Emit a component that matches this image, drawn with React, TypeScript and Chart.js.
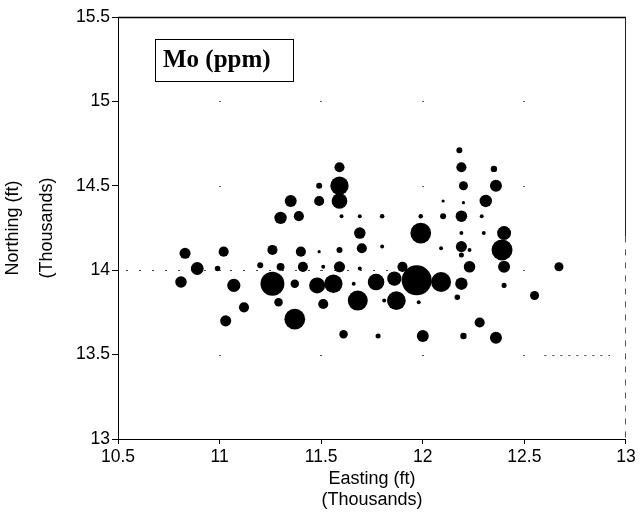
import React, { useEffect, useRef } from "react";
import { Chart, registerables } from "chart.js";

Chart.register(...registerables);

// Sample locations (thousands of ft) and molybdenum concentration at each
const eastings = [
  12.18, 11.59, 12.19, 12.35, 11.49, 11.59, 12.2, 12.36, 11.35, 11.49,
  11.59, 12.1, 12.2, 12.31, 11.3, 11.39, 11.6, 11.69, 11.8, 11.99,
  12.1, 12.19, 12.29, 11.69, 11.99, 12.19, 12.3, 12.4, 10.83, 11.02,
  11.26, 11.4, 11.49, 11.59, 11.7, 11.8, 12.09, 12.19, 12.23, 12.39,
  12.19, 10.89, 10.99, 11.2, 11.3, 11.41, 11.51, 11.59, 11.69, 11.9,
  12.23, 12.4, 12.67, 10.81, 11.07, 11.26, 11.37, 11.48, 11.56, 11.66,
  11.77, 11.86, 11.97, 12.09, 12.19, 12.4, 11.12, 11.29, 11.51, 11.68,
  11.81, 11.87, 11.98, 12.17, 12.55, 11.03, 11.37, 12.28, 11.61, 11.78,
  12.0, 12.2, 12.36,
];
const northings = [
  14.71, 14.61, 14.61, 14.6, 14.5, 14.5, 14.5, 14.5, 14.41, 14.41,
  14.41, 14.41, 14.4, 14.41, 14.31, 14.32, 14.32, 14.32, 14.32, 14.32,
  14.32, 14.32, 14.32, 14.22, 14.22, 14.22, 14.22, 14.22, 14.1, 14.11,
  14.12, 14.11, 14.11, 14.12, 14.13, 14.14, 14.13, 14.14, 14.12, 14.12,
  14.09, 14.01, 14.01, 14.03, 14.02, 14.02, 14.02, 14.02, 14.01, 14.02,
  14.02, 14.02, 14.02, 13.93, 13.91, 13.92, 13.92, 13.91, 13.92, 13.92,
  13.93, 13.95, 13.94, 13.93, 13.92, 13.91, 13.78, 13.81, 13.8, 13.82,
  13.82, 13.82, 13.81, 13.84, 13.85, 13.7, 13.71, 13.69, 13.62, 13.61,
  13.61, 13.61, 13.6,
];
const moPpm = [
  3.5, 10, 10, 4, 3.5, 33, 8, 14, 14, 10,
  24, 1, 1, 15, 15, 10, 1.5, 1.5, 2, 2,
  3.5, 13, 1.5, 13, 42, 1.5, 1.5, 19, 12, 10,
  10, 10, 1, 3.5, 10, 1.5, 1.5, 12, 1.5, 43,
  2.5, 16, 3, 3.5, 6, 10, 1.5, 12, 1.5, 10,
  13, 14, 8, 13, 17, 56, 7, 25, 33, 1.5,
  27, 20, 88, 39, 15, 2.5, 10, 7, 10, 39,
  1.5, 34, 1.5, 3, 8, 12, 42, 10, 7, 2.5,
  14, 4, 14,
];

const xTicks = [10.5, 11, 11.5, 12, 12.5, 13];
const yTicks = [13, 13.5, 14, 14.5, 15, 15.5];
const xTitle = ["Easting (ft)", "(Thousands)"];
const yTitle = ["Northing (ft)", "(Thousands)"];
const variableLabel = "Mo (ppm)";

// bubble area grows with concentration
const bubbleRadius = (ppm: number) => 1.6 * Math.sqrt(ppm);

const SANS = "'Liberation Sans', Arial, Helvetica, sans-serif";
const SERIF = "'Liberation Serif', 'Times New Roman', serif";

const decorPlugin = {
  id: "decor",
  beforeDatasetsDraw(chart: any) {
    const { ctx, scales } = chart;
    const xs = scales.x;
    const ys = scales.y;
    ctx.save();
    // faint dotted grid remnants
    ctx.fillStyle = "#555";
    for (const gx of xTicks.slice(1, -1)) {
      for (const gy of yTicks.slice(1, -1)) {
        ctx.fillRect(Math.round(xs.getPixelForValue(gx)) - 1, Math.round(ys.getPixelForValue(gy)), 2, 1);
      }
    }
    ctx.strokeStyle = "#444";
    ctx.lineWidth = 1;
    ctx.setLineDash([2, 11]);
    ctx.beginPath();
    const y14 = Math.round(ys.getPixelForValue(14)) + 0.5;
    ctx.moveTo(xs.getPixelForValue(10.5) + 8, y14);
    ctx.lineTo(xs.getPixelForValue(11.9), y14);
    ctx.stroke();
    ctx.setLineDash([2, 6]);
    ctx.beginPath();
    const y135 = Math.round(ys.getPixelForValue(13.5)) + 0.5;
    ctx.moveTo(xs.getPixelForValue(12.5) + 20, y135);
    ctx.lineTo(xs.getPixelForValue(13) - 16, y135);
    ctx.stroke();
    ctx.restore();
  },
  afterDraw(chart: any) {
    const { ctx, chartArea, scales } = chart;
    const { left, right, top, bottom } = chartArea;
    ctx.save();
    // top frame line
    ctx.strokeStyle = "#000";
    ctx.lineWidth = 1.3;
    ctx.beginPath();
    ctx.moveTo(left, top + 0.5);
    ctx.lineTo(right, top + 0.5);
    ctx.stroke();
    // right frame line: solid upper part, broken lower part
    const split = scales.y.getPixelForValue(14.2);
    ctx.lineWidth = 1;
    ctx.strokeStyle = "#222";
    ctx.beginPath();
    ctx.moveTo(right - 0.5, top);
    ctx.lineTo(right - 0.5, split);
    ctx.stroke();
    ctx.setLineDash([6, 7]);
    ctx.strokeStyle = "#555";
    ctx.beginPath();
    ctx.moveTo(right - 0.5, split);
    ctx.lineTo(right - 0.5, bottom);
    ctx.stroke();
    ctx.setLineDash([]);

    // variable label box
    const bx = left + 37;
    const by = top + 22;
    const bw = 138;
    const bh = 42;
    ctx.fillStyle = "#fff";
    ctx.fillRect(bx, by, bw, bh);
    ctx.strokeStyle = "#000";
    ctx.lineWidth = 1;
    ctx.strokeRect(bx + 0.5, by + 0.5, bw, bh);
    ctx.fillStyle = "#000";
    ctx.font = `bold 25px ${SERIF}`;
    ctx.textBaseline = "middle";
    ctx.textAlign = "left";
    ctx.fillText(variableLabel, bx + 8, by + bh / 2 + 1);
    ctx.restore();
  },
};

export default function App() {
  const canvasRef = useRef<HTMLCanvasElement | null>(null);

  useEffect(() => {
    const canvas = canvasRef.current;
    if (!canvas) return;
    const points = eastings.map((e, i) => ({
      x: e,
      y: northings[i],
      r: bubbleRadius(moPpm[i]),
    }));
    const chart = new Chart(canvas, {
      type: "bubble",
      data: {
        datasets: [
          {
            label: variableLabel,
            data: points,
            backgroundColor: "#000",
            borderColor: "#000",
            borderWidth: 0,
            hoverRadius: 0,
          },
        ],
      },
      options: {
        responsive: false,
        animation: false,
        devicePixelRatio: 1,
        events: [],
        layout: { padding: { top: 17, right: 15, left: 0, bottom: 0 } },
        plugins: {
          legend: { display: false },
          tooltip: { enabled: false },
        },
        scales: {
          x: {
            type: "linear",
            min: 10.5,
            max: 13,
            afterBuildTicks: (s: any) => {
              s.ticks = xTicks.map((v) => ({ value: v }));
            },
            afterFit: (s: any) => {
              s.height = 75;
            },
            grid: {
              drawOnChartArea: false,
              drawTicks: true,
              tickLength: 5,
              tickColor: "#000",
              tickWidth: 1,
            },
            border: { display: true, color: "#000", width: 1 },
            ticks: {
              color: "#000",
              font: { family: SANS, size: 17.5 },
              padding: 3,
              maxRotation: 0,
              autoSkip: false,
              callback: (v: any) => String(v),
            },
            title: {
              display: true,
              text: xTitle,
              color: "#000",
              font: { family: SANS, size: 18, lineHeight: "21.5px" },
              padding: { top: 0, bottom: 2.75 },
            },
          },
          y: {
            type: "linear",
            min: 13,
            max: 15.5,
            afterBuildTicks: (s: any) => {
              s.ticks = yTicks.map((v) => ({ value: v }));
            },
            afterFit: (s: any) => {
              s.width = 118;
            },
            grid: {
              drawOnChartArea: false,
              drawTicks: true,
              tickLength: 6,
              tickColor: "#000",
              tickWidth: 1,
            },
            border: { display: true, color: "#000", width: 1 },
            ticks: {
              color: "#000",
              font: { family: SANS, size: 17.5 },
              padding: 2,
              autoSkip: false,
              callback: (v: any) => String(v),
            },
            title: {
              display: true,
              text: yTitle,
              color: "#000",
              font: { family: SANS, size: 18, lineHeight: "34.5px" },
              padding: { top: -4.25, bottom: 0 },
            },
          },
        },
      },
      plugins: [decorPlugin],
    });
    return () => chart.destroy();
  }, []);

  return (
    <div style={{ position: "absolute", left: 0, top: 0, width: 641, height: 514, background: "#fff" }}>
      <canvas ref={canvasRef} width={641} height={514} style={{ display: "block" }} />
    </div>
  );
}
